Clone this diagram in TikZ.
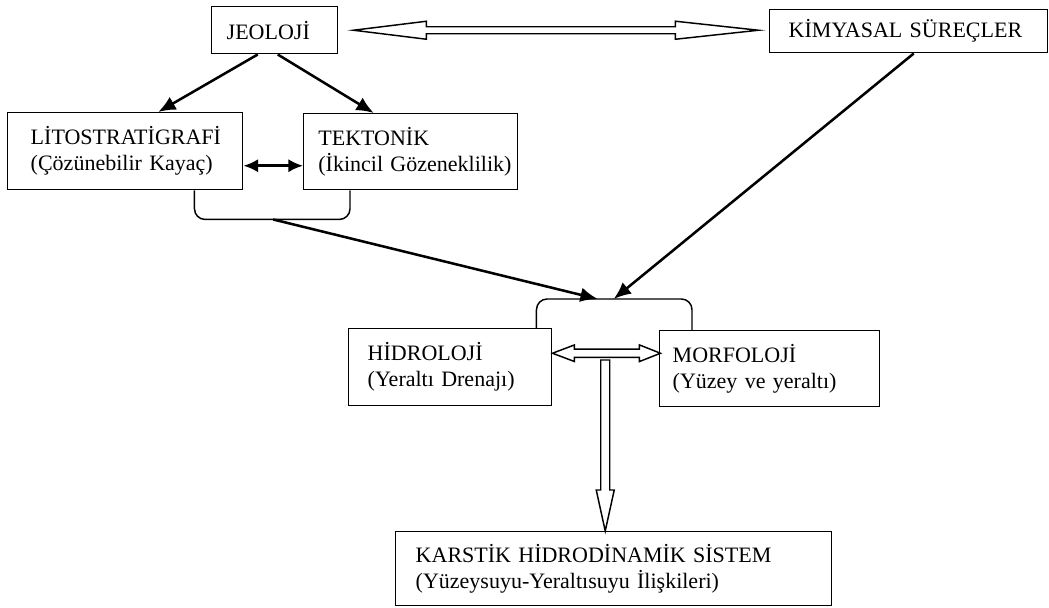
\documentclass[tikz,border=0pt]{standalone}
\usepackage{fontspec}
\setmainfont{Liberation Serif}
\usetikzlibrary{arrows.meta,calc}
\hyphenpenalty=10000

\tikzset{every picture/.style={line width=0.75pt}}
\tikzset{
  kutu/.style={draw, line width=1.1pt, anchor=north west, align=left, inner ysep=0pt, font=\fontsize{16.5}{19.5}\selectfont},
  okcizgi/.style={line width=1.9pt, -{Latex[length=13pt,width=11pt]}},
  ciftok/.style={line width=1.9pt, {Latex[length=11pt,width=10pt]}-{Latex[length=11pt,width=10pt]}},
  bosok/.style={line width=1.1pt, fill=white},
  parantez/.style={line width=1.1pt, rounded corners=8pt}
}

\begin{document}
\begin{tikzpicture}[x=0.75pt,y=0.75pt,yscale=-1,xscale=1]
\useasboundingbox (0,0) rectangle (1049,607);

%Kutu: JEOLOJİ
\node[kutu, text width=72pt, minimum height=35.25pt, inner xsep=11.25pt] (jeoloji) at (211,6) {JEOLOJİ};
%Kutu: KİMYASAL SÜREÇLER
\node[kutu, text width=180pt, minimum height=32.25pt, inner xsep=14.25pt] (kimyasal) at (769,9) {KİMYASAL~SÜREÇLER};
%Kutu: LİTOSTRATİGRAFİ
\node[kutu, text width=141.75pt, minimum height=57.75pt, inner xsep=17.25pt] (lito) at (7,112) {LİTOSTRATİGRAFİ\\(Çözünebilir~Kayaç)};
%Kutu: TEKTONİK
\node[kutu, text width=138.5pt, minimum height=57pt, inner xsep=11pt] (tekto) at (303,113) {TEKTONİK\\(İkincil~Gözeneklilik)};
%Kutu: HİDROLOJİ
\node[kutu, text width=123.75pt, minimum height=57.75pt, inner xsep=14.25pt] (hidro) at (348,328) {HİDROLOJİ\\(Yeraltı~Drenajı)};
%Kutu: MORFOLOJİ
\node[kutu, text width=145.5pt, minimum height=57pt, inner xsep=9.75pt] (morfo) at (659,330) {MORFOLOJİ\\(Yüzey~ve~yeraltı)};
%Kutu: KARSTİK HİDRODİNAMİK SİSTEM
\node[kutu, text width=297pt, minimum height=55.5pt, inner xsep=15pt] (karst) at (395,531) {KARSTİK HİDRODİNAMİK SİSTEM\\(Yüzeysuyu-Yeraltısuyu İlişkileri)};

%Bos cift ok: JEOLOJİ - KİMYASAL SÜREÇLER
\draw[bosok] ($(jeoloji.east)+(15,0)$) -- ++(73,-9) -- ++(0,5.5) -- ++(249,0) -- ++(0,-5.5) -- ++(83,9) -- ++(-83,9) -- ++(0,-5.5) -- ++(-249,0) -- ++(0,5.5) -- cycle ;

%Oklar: JEOLOJİ alt kutulara
\draw[okcizgi] ($(jeoloji.south)+(-17,0)$) -- ($(lito.north)+(33,0)$);
\draw[okcizgi] ($(jeoloji.south)+(3,0)$) -- ($(tekto.north)+(-37,0)$);
\draw[ciftok] ($(lito.east)+(0,14.5)$) -- ($(tekto.west)+(0,14)$);

%Parantez: alt
\draw[parantez] ($(lito.south east)+(-49,0)$) |- ($(tekto.south west)+(47,29)$) -- ($(tekto.south west)+(47,0)$);
\coordinate (altbag) at ($(lito.south east)!0.5!(tekto.south west)+(0,29)$);

%Parantez: ust
\draw[parantez] ($(hidro.north east)+(-16,0)$) |- ($(morfo.north west)+(33,-31)$) -- ($(morfo.north west)+(33,0)$);
\coordinate (ustbag) at ($(hidro.north east)!0.5!(morfo.north west)+(0,-30)$);

\draw[okcizgi] (altbag) -- ($(ustbag)+(-8,0)$);
\draw[okcizgi] ($(kimyasal.south)+(5,0)$) -- ($(ustbag)+(8,0)$);

%Bos cift ok: HİDROLOJİ - MORFOLOJİ
\draw[bosok] ($(hidro.east)+(0,-14)$) -- ++(22,-8.3) -- ++(0,4.2) -- ++(65,0) -- ++(0,-4.2) -- ++(21,8.3) -- ++(-21,8.3) -- ++(0,-4.2) -- ++(-65,0) -- ++(0,4.2) -- cycle ;

%Bos ok: asagi
\draw[bosok] ($(karst.north)+(-8.5,0)$) -- ++(-9,-41) -- ++(4.5,0) -- ++(0,-130) -- ++(9,0) -- ++(0,130) -- ++(4.5,0) -- cycle ;

\end{tikzpicture}
\end{document}
